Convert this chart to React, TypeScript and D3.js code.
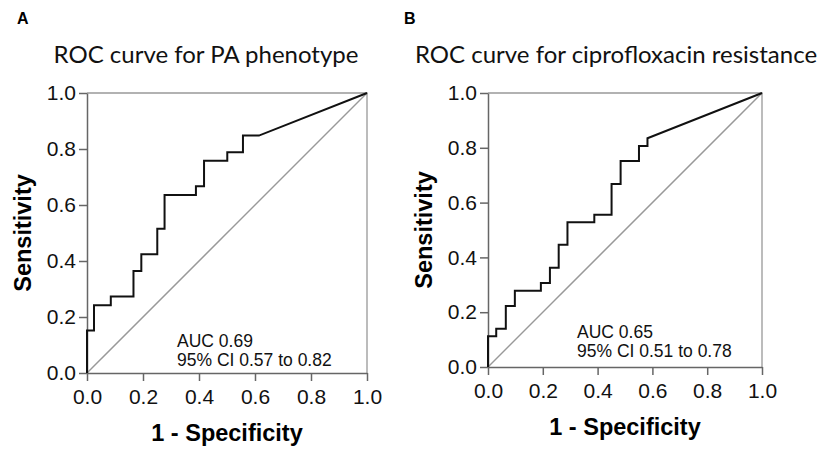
import React, { useRef, useEffect } from 'react'
import * as d3 from 'd3'

// ROC points (1 - specificity, sensitivity)
const fprA = [0, 0, 0.025, 0.025, 0.085, 0.085, 0.166, 0.166, 0.194, 0.194, 0.251, 0.251, 0.277, 0.277, 0.389, 0.389, 0.418, 0.418, 0.501, 0.501, 0.557, 0.557, 0.614, 1]
const tprA = [0, 0.152, 0.152, 0.242, 0.242, 0.273, 0.273, 0.364, 0.364, 0.424, 0.424, 0.515, 0.515, 0.636, 0.636, 0.667, 0.667, 0.758, 0.758, 0.788, 0.788, 0.848, 0.848, 1]

const fprB = [0, 0, 0.03, 0.03, 0.065, 0.065, 0.098, 0.098, 0.193, 0.193, 0.226, 0.226, 0.258, 0.258, 0.29, 0.29, 0.388, 0.388, 0.451, 0.451, 0.484, 0.484, 0.551, 0.551, 0.582, 0.582, 1]
const tprB = [0, 0.112, 0.112, 0.14, 0.14, 0.223, 0.223, 0.278, 0.278, 0.307, 0.307, 0.362, 0.362, 0.446, 0.446, 0.528, 0.528, 0.556, 0.556, 0.668, 0.668, 0.752, 0.752, 0.807, 0.807, 0.835, 1]

const ticks = [0, 0.2, 0.4, 0.6, 0.8, 1.0]

const panels = [
    { letter: 'A', title: 'ROC curve for PA phenotype', fpr: fprA, tpr: tprA, auc: 'AUC 0.69', ci: '95% CI 0.57 to 0.82',
      left: 87, top: 93, size: 280, titleX: 206, letterX: 17, aucX: 177, aucY: 347 },
    { letter: 'B', title: 'ROC curve for ciprofloxacin resistance', fpr: fprB, tpr: tprB, auc: 'AUC 0.65', ci: '95% CI 0.51 to 0.78',
      left: 488, top: 93, size: 274, titleX: 616, letterX: 404, aucX: 577, aucY: 338 },
]

const App = () => {
    const ref = useRef<SVGSVGElement>(null)

    useEffect(() => {
        const svg = d3.select(ref.current)
        svg.selectAll('*').remove()
        const font = 'Liberation Sans, Arial, sans-serif'

        panels.forEach(p => {
            const x = d3.scaleLinear().domain([0, 1]).range([p.left, p.left + p.size])
            const y = d3.scaleLinear().domain([0, 1]).range([p.top + p.size, p.top])

            svg.append('text')
                .attr('x', p.letterX).attr('y', 24)
                .attr('font-family', font).attr('font-weight', 'bold').attr('font-size', 16)
                .text(p.letter)

            svg.append('text')
                .attr('x', p.titleX).attr('y', 63)
                .attr('text-anchor', 'middle')
                .attr('font-family', 'Lato, Open Sans, sans-serif').attr('font-size', 24)
                .attr('fill', '#111')
                .text(p.title)

            // frame top/right
            svg.append('path')
                .attr('d', `M${x(0)},${y(1)}H${x(1)}V${y(0)}`)
                .attr('fill', 'none').attr('stroke', '#999').attr('stroke-width', 1.3)

            // diagonal reference
            svg.append('line')
                .attr('x1', x(0)).attr('y1', y(0)).attr('x2', x(1)).attr('y2', y(1))
                .attr('stroke', '#999').attr('stroke-width', 1.5)

            const xAxis = svg.append('g')
                .attr('transform', `translate(0,${y(0)})`)
                .call(d3.axisBottom(x).tickValues(ticks).tickFormat(d3.format('.1f')).tickSize(8).tickPadding(8).tickSizeOuter(0))
            const yAxis = svg.append('g')
                .attr('transform', `translate(${x(0)},0)`)
                .call(d3.axisLeft(y).tickValues(ticks).tickFormat(d3.format('.1f')).tickSize(8).tickPadding(3).tickSizeOuter(0))
            ;[xAxis, yAxis].forEach(a => {
                a.selectAll('path, line').attr('stroke', '#666').attr('stroke-width', 1.5)
                a.selectAll('text').attr('font-family', font).attr('font-size', 21).attr('fill', '#111')
            })

            svg.append('text')
                .attr('x', x(0.5)).attr('y', y(0) + 68)
                .attr('text-anchor', 'middle')
                .attr('font-family', font).attr('font-weight', 'bold').attr('font-size', 23.5)
                .text('1 - Specificity')

            svg.append('text')
                .attr('transform', `translate(${p.left - 56},${y(0.5)}) rotate(-90)`)
                .attr('text-anchor', 'middle')
                .attr('font-family', font).attr('font-weight', 'bold').attr('font-size', 23.5)
                .text('Sensitivity')

            const line = d3.line<number>()
                .x(i => x(p.fpr[i]))
                .y(i => y(p.tpr[i]))
            svg.append('path')
                .datum(d3.range(p.fpr.length))
                .attr('d', line)
                .attr('fill', 'none').attr('stroke', '#111').attr('stroke-width', 2)

            svg.append('text')
                .attr('x', p.aucX).attr('y', p.aucY)
                .attr('font-family', font).attr('font-size', 17.5).attr('fill', '#111')
                .text(p.auc)
            svg.append('text')
                .attr('x', p.aucX).attr('y', p.aucY + 19)
                .attr('font-family', font).attr('font-size', 17.5).attr('fill', '#111')
                .text(p.ci)
        })
    }, [])

    return (
        <svg ref={ref} width={828} height={450}
            style={{ position: 'absolute', left: 0, top: 0, background: '#fff' }} />
    )
}

export default App
